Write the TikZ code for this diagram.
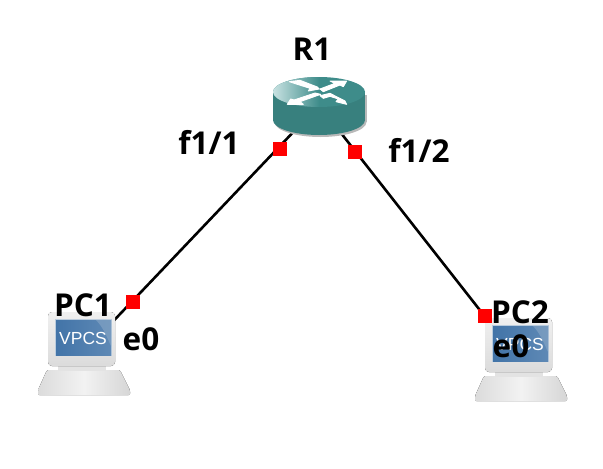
\documentclass[tikz,border=0pt]{standalone}
\usepackage{fontspec}
\setmainfont{Open Sans}
\newfontfamily\iconfont{Liberation Sans}
\usetikzlibrary{calc}
\definecolor{routertop}{RGB}{62,140,138}
\definecolor{routerdark}{RGB}{56,128,126}
\definecolor{routerlight}{RGB}{200,226,226}
\definecolor{screenblue}{RGB}{66,116,168}
\definecolor{screenlight}{RGB}{140,170,200}
\tikzset{
  x=1pt,y=-1pt,
  hub/.style={inner sep=0pt,minimum size=1pt},
  link/.style={draw=black,line width=2.6pt},
  port/.style={fill=red,draw=none,inner sep=0pt,minimum size=14pt},
  lbl/.style={inner sep=0pt,text=black,font=\fontsize{31.5}{34}\selectfont\bfseries},
  pcicon/.pic={
    \fill[left color=gray!28,right color=gray!32,middle color=gray!10,rounded corners=1.5pt]
      (-35,16) -- (38,16) -- (48,36) -- (48,41) -- (-44,41) -- (-44,36) -- cycle;
    \fill[gray!22] (-24,10) rectangle (24,17);
    \fill[top color=gray!12,bottom color=gray!28,rounded corners=4pt] (-34,-42) rectangle (33,12);
    \fill[screenlight!60!white] (-27,-35) rectangle (30,2);
    \shade[left color=screenblue,right color=screenblue!85!white] (-26,-34) rectangle (29,1);
    \fill[screenlight,opacity=.55] (29,-34) -- (14,-34) .. controls (22,-26) and (26,-14) .. (29,-8) -- cycle;
    \node[inner sep=0pt,text=white,font=\iconfont\fontsize{17.5}{20}\selectfont] at (1,-16) {VPCS};
  },
  routericon/.pic={
    \fill[gray!55] (1.5,17) ellipse[x radius=46,y radius=15];
    \fill[gray!55] (-44.5,-10) rectangle (47.5,17);
    \fill[routerdark] (0,15) ellipse[x radius=46,y radius=15];
    \fill[routerdark] (-46,-13) rectangle (46,15);
    \fill[routertop] (0,-13) ellipse[x radius=46,y radius=15];
    \begin{scope}
      \clip (0,-13) ellipse[x radius=46,y radius=15];
      \shade[left color=routerlight,right color=routertop] (-46,-28) rectangle (0,2);
    \end{scope}
    \begin{scope}[shift={(-39,-30)},x=.3333pt,y=-.3333pt]
      \filldraw[white,line width=.9pt,line join=round] (28,20) -- (60,16) -- (112,36) -- (118,42) -- (85,48) -- (90,40) -- (46,26) -- cycle;
      \filldraw[white,line width=.9pt,line join=round] (120,42) -- (165,25) -- (150,18) -- (200,18) -- (190,35) -- (180,30) -- (130,50) -- cycle;
      \filldraw[white,line width=.9pt,line join=round] (122,58) -- (60,80) -- (70,88) -- (22,88) -- (32,72) -- (42,75) -- (105,54) -- cycle;
      \filldraw[white,line width=.9pt,line join=round] (120,62) -- (150,55) -- (195,78) -- (200,88) -- (168,80) -- (175,72) -- (150,64) -- (130,70) -- cycle;
    \end{scope}
  }
}
\begin{document}
\begin{tikzpicture}
\useasboundingbox (0,0) rectangle (603,469);
\fill[white] (0,0) rectangle (603,469);
% anchors of the devices
\node[hub] (r1) at (319,105) {};
\node[hub] (pc1) at (82,354) {};
\node[hub] (pc2) at (519,360) {};
% connectors
\draw[link] (r1) -- (pc1);
\draw[link] (r1) -- (pc2);
% devices
\pic at (r1) {routericon};
\pic at (pc1) {pcicon};
\pic at (pc2) {pcicon};
% ports
\node[port] (p1) at (280,149) {};
\node[port] (p2) at (355,152) {};
\node[port] (p3) at (133,302) {};
\node[port] (p4) at (485,316) {};
% labels
\node[lbl] (lr1) at (312,49) {R1};
\node[lbl] (lf11) at (209,142) {f1/1};
\node[lbl] (lf12) at (419,150) {f1/2};
\node[lbl] (lpc1) at (83,305) {PC1};
\node[lbl] (le01) at (141,339) {e0};
\node[lbl] (lpc2) at (520,312) {PC2};
\node[lbl] (le02) at (511,346) {e0};
\end{tikzpicture}
\end{document}
